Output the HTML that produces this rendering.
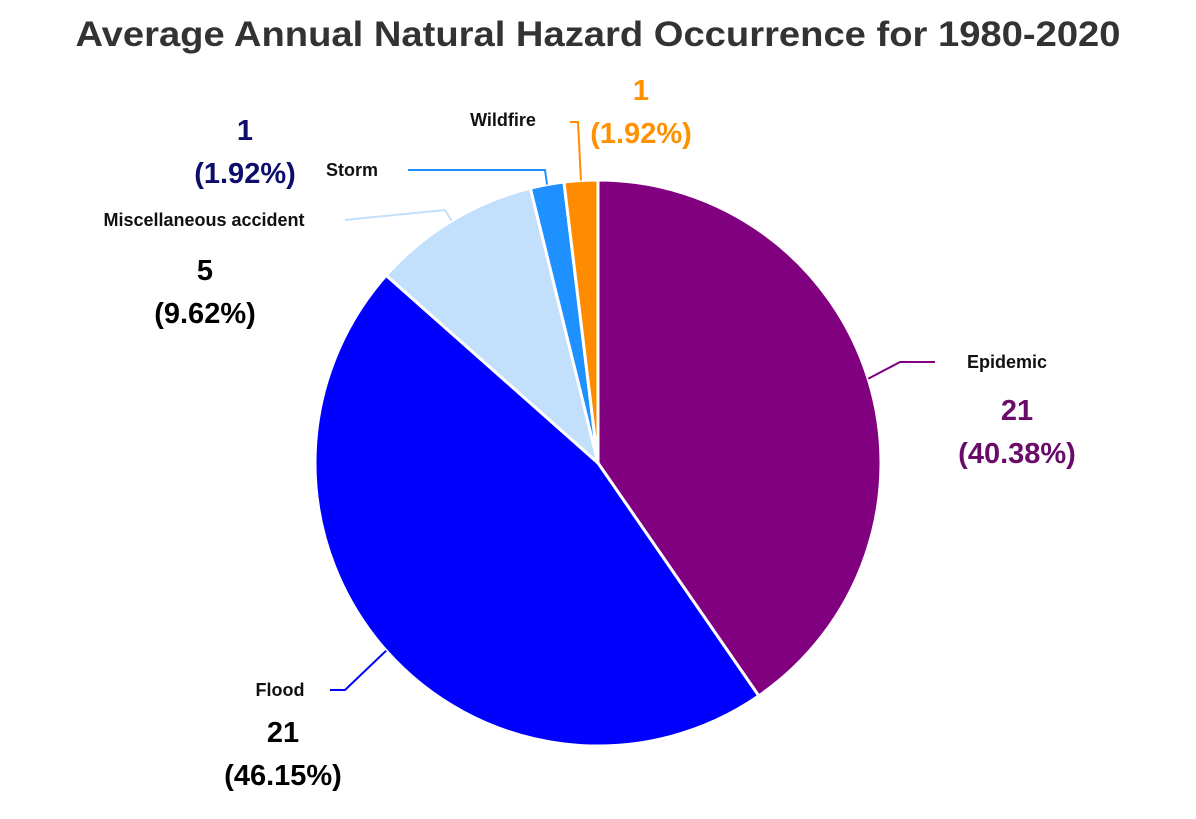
<!DOCTYPE html>
<html><head><meta charset="utf-8"><style>
html,body{margin:0;padding:0;background:#fff;}
svg{display:block;font-family:"Liberation Sans",sans-serif;}
</style></head><body>
<svg id="chart" width="1196" height="819" viewBox="0 0 1196 819">
<text x="598" y="46" text-anchor="middle" font-size="35" font-weight="bold" fill="#333" textLength="1045" lengthAdjust="spacingAndGlyphs">Average Annual Natural Hazard Occurrence for 1980-2020</text>
<g id="slices"></g>
<g id="labels"></g>
</svg>
<script>
const categories = ["Epidemic","Flood","Miscellaneous accident","Storm","Wildfire"];
const values = [21,21,5,1,1];
const percents = [40.38,46.15,9.62,1.92,1.92];
const colors = ["#800080","#0000ff","#c2e0fc","#1e90ff","#ff8c00"];
const valueColors = ["#6a0a6a","#000","#000","#0d0d6b","#ff9000"];
// label layout (positions only)
const layout = [
 {nx:1007,ny:368,vx:1017,vy:420,line:[[935,362],[900,362]]},
 {nx:280,ny:696,vx:283,vy:742,line:[[330,690],[345,690]]},
 {nx:204,ny:226,vx:205,vy:280,line:[[345,220],[445,210]]},
 {nx:352,ny:176,vx:245,vy:140,line:[[408,170],[545,170]]},
 {nx:503,ny:126,vx:641,vy:100,line:[[570,122],[578,122]]}
];
const cx=598, cy=463, R=283;
const NS="http://www.w3.org/2000/svg";
const gS=document.getElementById('slices'), gL=document.getElementById('labels');
const total=percents.reduce((a,b)=>a+b,0);
function pt(a,r){return [cx+r*Math.sin(a), cy-r*Math.cos(a)];}
let a0=0;
percents.forEach((p,i)=>{
  const a1=a0+p/total*2*Math.PI;
  const s=pt(a0,R), e=pt(a1,R);
  const path=document.createElementNS(NS,'path');
  path.setAttribute('d',`M${cx},${cy}L${s[0]},${s[1]}A${R},${R} 0 ${a1-a0>Math.PI?1:0} 1 ${e[0]},${e[1]}Z`);
  path.setAttribute('fill',colors[i]);
  path.setAttribute('stroke','#fff');
  path.setAttribute('stroke-width','3');
  path.setAttribute('stroke-linejoin','round');
  
  
  gS.appendChild(path);
  const mid=(a0+a1)/2, edge=pt(mid,R), L=layout[i];
  const pl=document.createElementNS(NS,'polyline');
  const pts=[L.line[0],L.line[1],edge].map(q=>q.join(',')).join(' ');
  pl.setAttribute('points',pts);
  pl.setAttribute('fill','none');
  pl.setAttribute('stroke',colors[i]);
  pl.setAttribute('stroke-width','2');
  
  
  gL.appendChild(pl);
  const t=document.createElementNS(NS,'text');
  t.setAttribute('x',L.nx);t.setAttribute('y',L.ny);
  t.setAttribute('text-anchor','middle');t.setAttribute('font-size','18');t.setAttribute('font-weight','bold');t.setAttribute('fill','#111');
  t.textContent=categories[i];
  
  
  gL.appendChild(t);
  const v=document.createElementNS(NS,'text');
  v.setAttribute('x',L.vx);v.setAttribute('y',L.vy);
  v.setAttribute('text-anchor','middle');v.setAttribute('font-size','29');v.setAttribute('font-weight','bold');v.setAttribute('fill',valueColors[i]);
  
  
  const t1=document.createElementNS(NS,'tspan');t1.setAttribute('x',L.vx);t1.textContent=values[i];
  const t2=document.createElementNS(NS,'tspan');t2.setAttribute('x',L.vx);t2.setAttribute('dy','43');t2.textContent='('+percents[i].toFixed(2)+'%)';
  v.appendChild(t1);v.appendChild(t2);
  gL.appendChild(v);
  a0=a1;
});
</script>
</body></html>
